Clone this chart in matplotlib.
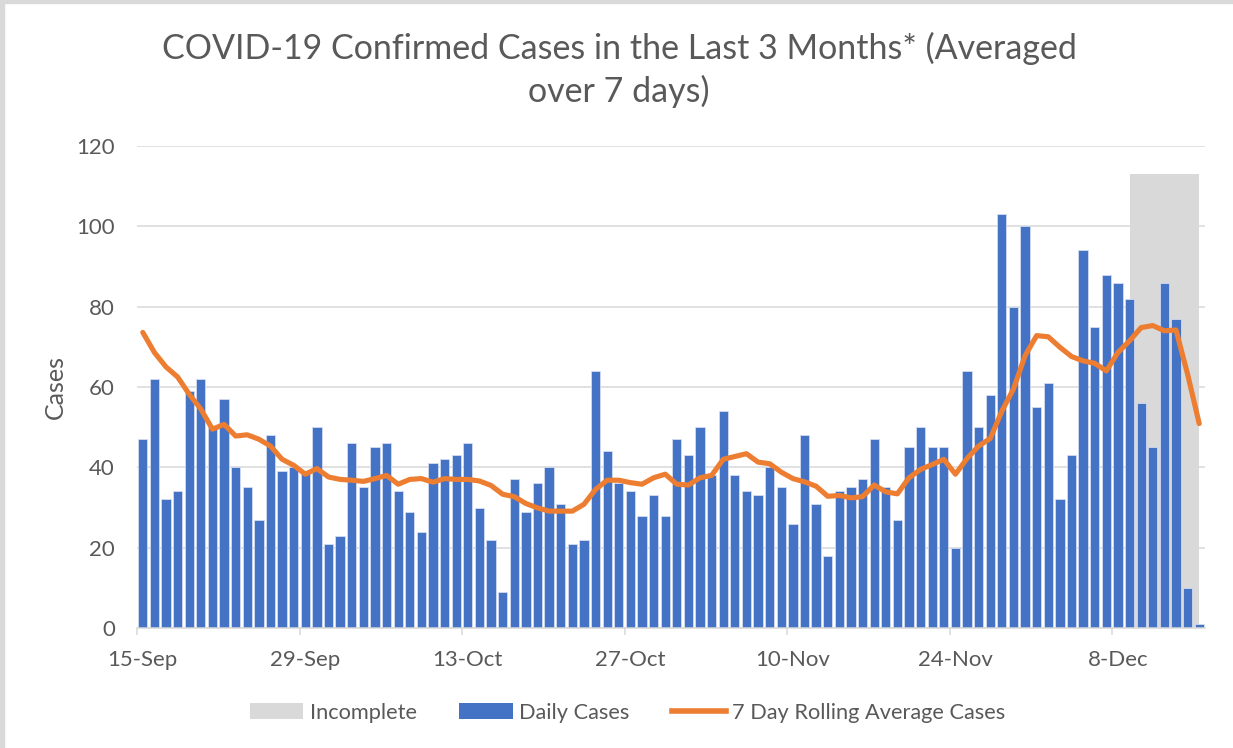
import matplotlib
matplotlib.use("Agg")
import matplotlib.pyplot as plt
from matplotlib.patches import Patch, Rectangle
from matplotlib.lines import Line2D
import numpy as np
import pandas as pd

plt.rcParams["font.family"] = ["Lato", "DejaVu Sans"]

# ------------------------------------------------------------------
# Data: 15-Sep .. 15-Dec, one value per day
# ------------------------------------------------------------------
START, END = "2020-09-15", "2020-12-15"

daily_cases = [
    47, 62, 32, 34, 59, 62, 50, 57, 40, 35, 27, 48, 39, 40, 39, 50,
    21, 23, 46, 35, 45, 46, 34, 29, 24, 41, 42, 43, 46, 30, 22, 9,
    37, 29, 36, 40, 31, 21, 22, 64, 44, 36, 34, 28, 33, 28, 47, 43,
    50, 38, 54, 38, 34, 33, 40, 35, 26, 48, 31, 18, 34, 35, 37, 47,
    35, 27, 45, 50, 45, 45, 20, 64, 50, 58, 103, 80, 100, 55, 61, 32,
    43, 94, 75, 88, 86, 82, 56, 45, 86, 77, 10, 1,
]

rolling_avg = [
    73.6, 68.6, 65.0, 62.5, 58.2, 54.5, 49.5, 50.7, 47.8, 48.1, 47.0, 45.3,
    42.0, 40.5, 38.3, 39.7, 37.6, 37.0, 36.8, 36.5, 37.2, 38.0, 35.8, 37.0,
    37.2, 36.3, 37.2, 37.0, 37.0, 36.6, 35.5, 33.3, 32.7, 31.0, 29.9, 29.1,
    29.1, 29.1, 30.8, 34.5, 36.8, 36.8, 36.2, 35.8, 37.4, 38.3, 35.8, 35.6,
    37.4, 38.0, 42.0, 42.7, 43.4, 41.3, 40.9, 38.8, 37.2, 36.4, 35.3, 32.8,
    33.0, 32.4, 32.7, 35.6, 33.9, 33.4, 37.4, 39.5, 40.7, 42.0, 38.3, 42.2,
    45.3, 47.2, 54.0, 59.5, 67.8, 72.8, 72.5, 69.9, 67.6, 66.5, 65.9, 64.0,
    68.6, 71.5, 74.8, 75.3, 74.0, 74.2, 63.2, 50.9,
]

# last seven days are flagged as incomplete
incomplete = [0] * 85 + [113] * 7

tick_dates = ["2020-09-15", "2020-09-29", "2020-10-13", "2020-10-27",
              "2020-11-10", "2020-11-24", "2020-12-08"]

TEXT = "#595959"
BLUE = "#4472C4"
ORANGE = "#ED7D31"
GREY = "#D9D9D9"

days = pd.date_range(START, END, freq="D")
centers = days + pd.Timedelta(hours=12)
inc = np.array(incomplete)

fig = plt.figure(figsize=(12.33, 7.48), dpi=100)
ax = fig.add_axes([0.1111, 0.1604, 0.8662, 0.6444])

ax.fill_between(centers, 0, inc, where=inc > 0, color=GREY, lw=0, zorder=1)
ax.bar(centers, daily_cases, width=0.80, color=BLUE, edgecolor="#DCE4F5",
       linewidth=0.5, zorder=2)
ax.plot(centers, rolling_avg, color=ORANGE, lw=3.7, solid_capstyle="round",
        solid_joinstyle="round", zorder=3)

ax.set_xlim(days[0], days[-1] + pd.Timedelta(days=1))
ax.set_ylim(0, 120)
ax.set_yticks(np.arange(0, 121, 20))
ax.grid(axis="y", color=GREY, lw=1.1, zorder=0)
ax.set_axisbelow(True)

# tick marks at day boundaries, labels centred in the day slot
ticks = pd.to_datetime(tick_dates)
ax.set_xticks(ticks)
ax.set_xticklabels([])
ax.set_xticks(ticks + pd.Timedelta(hours=12), minor=True)
ax.set_xticklabels([t.strftime("%-d-%b") for t in ticks], minor=True)
ax.tick_params(axis="x", which="major", length=5, width=1.1, color=GREY)
ax.tick_params(axis="x", which="minor", length=0, pad=15.5, labelsize=16,
               labelcolor=TEXT)
ax.tick_params(axis="y", length=0, pad=16, labelsize=16, labelcolor=TEXT)

for side in ["top", "right", "left"]:
    ax.spines[side].set_visible(False)
ax.spines["bottom"].set_color(GREY)
ax.spines["bottom"].set_linewidth(1.1)

ax.set_ylabel("Cases", fontsize=18, color=TEXT, labelpad=7)

fig.suptitle("COVID-19 Confirmed Cases in the Last 3 Months* (Averaged\nover 7 days)",
             x=0.502, y=0.958, fontsize=24.5, color=TEXT, linespacing=1.38)

handles = [
    Patch(facecolor=GREY, edgecolor="none", label="Incomplete"),
    Patch(facecolor=BLUE, edgecolor="none", label="Daily Cases"),
    Line2D([], [], color=ORANGE, lw=4, label="7 Day Rolling Average Cases"),
]
fig.legend(handles=handles, loc="center", bbox_to_anchor=(0.509, 0.047), ncol=3,
           frameon=False, fontsize=15.7, labelcolor=TEXT, handlelength=2.45,
           handleheight=0.75, handletextpad=0.3, columnspacing=1.95)

# light grey frame on the left and top edges of the picture
fig.patches.append(Rectangle((0, 0), 0.0035, 1, transform=fig.transFigure,
                             color=GREY, zorder=-1))
fig.patches.append(Rectangle((0, 0.996), 1, 0.004, transform=fig.transFigure,
                             color=GREY, zorder=-1))

fig.savefig("out.png", dpi=100)
